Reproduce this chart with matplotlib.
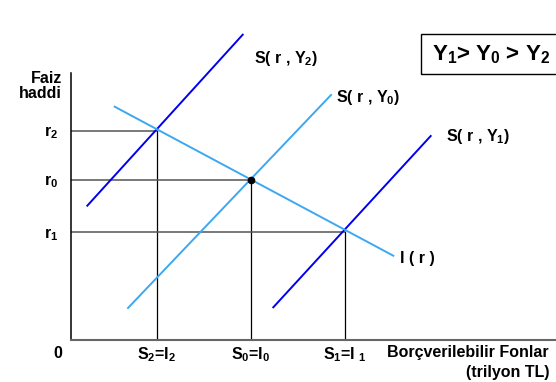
import matplotlib
matplotlib.use("Agg")
import matplotlib.pyplot as plt
import matplotlib.patches as mpatches

plt.rcParams['font.family'] = ['Liberation Sans', 'DejaVu Sans']
plt.rcParams['font.weight'] = 'bold'
plt.rcParams['mathtext.fontset'] = 'custom'
plt.rcParams['mathtext.rm'] = 'Liberation Sans:bold'
plt.rcParams['mathtext.it'] = 'Liberation Sans:bold'
plt.rcParams['mathtext.bf'] = 'Liberation Sans:bold'

DARK = '#0000ee'
LIGHT = '#3ca8f2'
FS = 11.5

# Curves (x: loanable funds, y: interest rate), endpoints
s_y2_x = [16.8, 172.2]
s_y2_y = [133.8, 304.8]
s_y0_x = [57.5, 260.5]
s_y0_y = [31.5, 244.5]
s_y1_x = [202.8, 360.2]
s_y1_y = [32.2, 203.5]
inv_x = [44.2, 322.8]
inv_y = [232.8, 83.8]

# Equilibria
eq_x = [86.5, 180.5, 274.5]      # S2=I2, S0=I0, S1=I1
eq_r = [209.0, 160.0, 107.5]     # r2, r0, r1
x_labels = ['S$_2$=I$_2$', 'S$_0$=I$_0$', 'S$_1$=I $_1$']
r_labels = ['r$_2$', 'r$_0$', 'r$_1$']

fig = plt.figure(figsize=(5.56, 3.82), dpi=100)
ax = fig.add_axes([70.5 / 556, 42.5 / 382, 485.5 / 556, 266.5 / 382])
ax.set_xlim(0, 485.5)
ax.set_ylim(0, 266.5)
ax.spines['top'].set_visible(False)
ax.spines['right'].set_visible(False)
ax.spines['left'].set_color('black')
ax.spines['left'].set_linewidth(1.1)
ax.spines['bottom'].set_color('#666666')
ax.spines['bottom'].set_linewidth(1.5)

# guide lines
for x, r in zip(eq_x, eq_r):
    ax.plot([0, x], [r, r], color='#555555', lw=1.1, zorder=1)
    ax.plot([x, x], [0, r], color='black', lw=0.9, zorder=1)

ax.plot(s_y2_x, s_y2_y, color=DARK, lw=1.4, clip_on=False, zorder=2)
ax.plot(s_y0_x, s_y0_y, color=LIGHT, lw=1.4, clip_on=False, zorder=2)
ax.plot(s_y1_x, s_y1_y, color=DARK, lw=1.4, clip_on=False, zorder=2)
ax.plot(inv_x, inv_y, color=LIGHT, lw=1.4, clip_on=False, zorder=2)
ax.plot([eq_x[1]], [eq_r[1]], 'o', color='black', ms=4.5, zorder=3)

ax.set_xticks(eq_x)
ax.set_xticklabels(x_labels, fontsize=FS, fontweight='bold')
order = sorted(range(3), key=lambda i: eq_r[i])
ax.set_yticks([eq_r[i] for i in order])
ax.set_yticklabels([r_labels[i] for i in order], fontsize=FS, fontweight='bold')
ax.tick_params(axis='x', length=0, pad=4)
ax.tick_params(axis='y', length=0, pad=9)

# curve labels
ax.text(184, 281, 'S( r , Y$_2$)', fontsize=FS, va='center', clip_on=False)
ax.text(266, 242, 'S( r , Y$_0$)', fontsize=FS, va='center', clip_on=False)
ax.text(375, 203, 'S( r , Y$_1$)', fontsize=FS, va='center', clip_on=False)
ax.text(329, 81, 'I ( r )', fontsize=FS, va='center', clip_on=False)

# axis titles
fig.text(62 / 556, 1 - 71 / 382, 'Faiz\nhaddi', fontsize=FS, ha='right', va='top',
         linespacing=1.0)
fig.text(58 / 556, 1 - 353 / 382, '0', fontsize=FS, ha='center', va='center')
fig.text(549 / 556, 1 - 353 / 382, 'Borçverilebilir Fonlar', fontsize=FS,
         ha='right', va='center')
fig.text(549 / 556, 1 - 372 / 382, '(trilyon TL)', fontsize=FS,
         ha='right', va='center')

# box with ordering of income levels
fig.add_artist(mpatches.Rectangle((421 / 556, 1 - 74 / 382), 140 / 556, 40 / 382,
                                  transform=fig.transFigure, fill=False,
                                  lw=1.0, ec='black'))
fig.text(432 / 556, 1 - 55 / 382, 'Y$_1$> Y$_0$ > Y$_2$', fontsize=16,
         ha='left', va='center')

fig.savefig('out.png', dpi=100)
